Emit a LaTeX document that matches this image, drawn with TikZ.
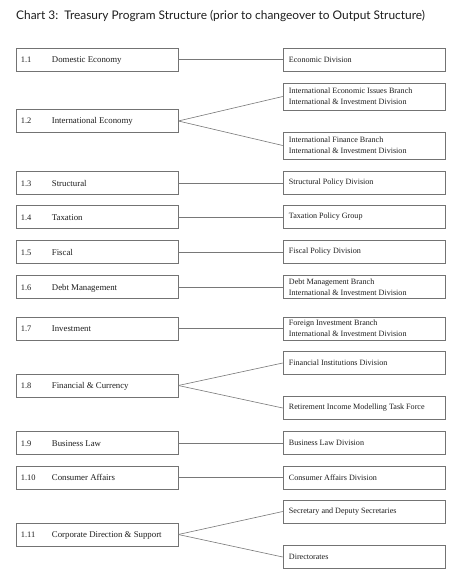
\documentclass[tikz,border=0pt]{standalone}
\usepackage{fontspec}
\setmainfont{Liberation Serif}
\newfontfamily\titlefont{Lato}
\begin{document}
\begin{tikzpicture}[x=1pt,y=-1pt]
\definecolor{boxgray}{RGB}{115,115,115}
\definecolor{linegray}{RGB}{120,120,120}
\definecolor{txt}{RGB}{30,30,30}
\tikzset{
  lbox/.style={draw=boxgray,line width=0.6pt,minimum width=162pt,minimum height=23pt,inner sep=0pt},
  rbox/.style={draw=boxgray,line width=0.6pt,minimum width=162pt,minimum height=23pt,inner sep=0pt},
  rbox2/.style={rbox,minimum height=27pt},
  num/.style={anchor=base west,font=\fontsize{8.4}{10}\selectfont,text=txt,inner sep=0pt},
  lab/.style={anchor=base west,font=\fontsize{8.8}{10}\selectfont,text=txt,inner sep=0pt},
  rtext/.style={anchor=west,align=left,font=\fontsize{8.1}{11}\selectfont,text=txt,inner sep=0pt},
  conn/.style={draw=linegray,line width=0.6pt}
}
\useasboundingbox[fill=white] (0,0) rectangle (467,588);
\node[anchor=west,font=\titlefont\fontsize{11.9}{14}\selectfont,text=txt,inner sep=0pt] (title) at (16,16) {Chart 3:\ \ Treasury Program Structure (prior to changeover to Output Structure)};

\newcommand{\lefty}[4]{%
  \node[lbox] (#1) at (97,#2) {};
  \node[num] (#1n) at ([xshift=5pt,yshift=-3pt]#1.west) {#3};
  \node[lab] (#1l) at ([xshift=36pt,yshift=-3pt]#1.west) {#4};
}
\newcommand{\righty}[4]{%
  \node[#4] (#1) at (364,#2) {};
  \node[rtext] (#1t) at ([xshift=6pt]#1.west) {#3};
}

\lefty{a}{59.5}{1.1}{Domestic Economy}
\righty{ra}{59.5}{Economic Division}{rbox}

\lefty{b}{121}{1.2}{International Economy}
\righty{rb1}{96.5}{International Economic Issues Branch\\International \& Investment Division}{rbox2}
\righty{rb2}{145.5}{International Finance Branch\\International \& Investment Division}{rbox2}

\lefty{c}{183}{1.3}{Structural}
\righty{rc}{183}{Structural Policy Division}{rbox}

\lefty{d}{217}{1.4}{Taxation}
\righty{rd}{217}{Taxation Policy Group}{rbox}

\lefty{e}{252}{1.5}{Fiscal}
\righty{re}{252}{Fiscal Policy Division}{rbox}

\lefty{f}{287}{1.6}{Debt Management}
\righty{rf}{287}{Debt Management Branch\\International \& Investment Division}{rbox}

\lefty{g}{328.5}{1.7}{Investment}
\righty{rg}{328.5}{Foreign Investment Branch\\International \& Investment Division}{rbox}

\lefty{h}{385.5}{1.8}{Financial \& Currency}
\righty{rh1}{363}{Financial Institutions Division}{rbox}
\righty{rh2}{408}{Retirement Income Modelling Task Force}{rbox}

\lefty{i}{443}{1.9}{Business Law}
\righty{ri}{443}{Business Law Division}{rbox}

\lefty{j}{477.5}{1.10}{Consumer Affairs}
\righty{rj}{477.5}{Consumer Affairs Division}{rbox}

\lefty{k}{534.5}{1.11}{Corporate Direction \& Support}
\righty{rk1}{511.5}{Secretary and Deputy Secretaries}{rbox}
\righty{rk2}{557}{Directorates}{rbox}

\draw[conn] (a.east) -- (ra.west);
\draw[conn] (b.east) -- (rb1.west);
\draw[conn] (b.east) -- (rb2.west);
\draw[conn] (c.east) -- (rc.west);
\draw[conn] (d.east) -- (rd.west);
\draw[conn] (e.east) -- (re.west);
\draw[conn] (f.east) -- (rf.west);
\draw[conn] (g.east) -- (rg.west);
\draw[conn] (h.east) -- (rh1.west);
\draw[conn] (h.east) -- (rh2.west);
\draw[conn] (i.east) -- (ri.west);
\draw[conn] (j.east) -- (rj.west);
\draw[conn] (k.east) -- (rk1.west);
\draw[conn] (k.east) -- (rk2.west);
\end{tikzpicture}
\end{document}
